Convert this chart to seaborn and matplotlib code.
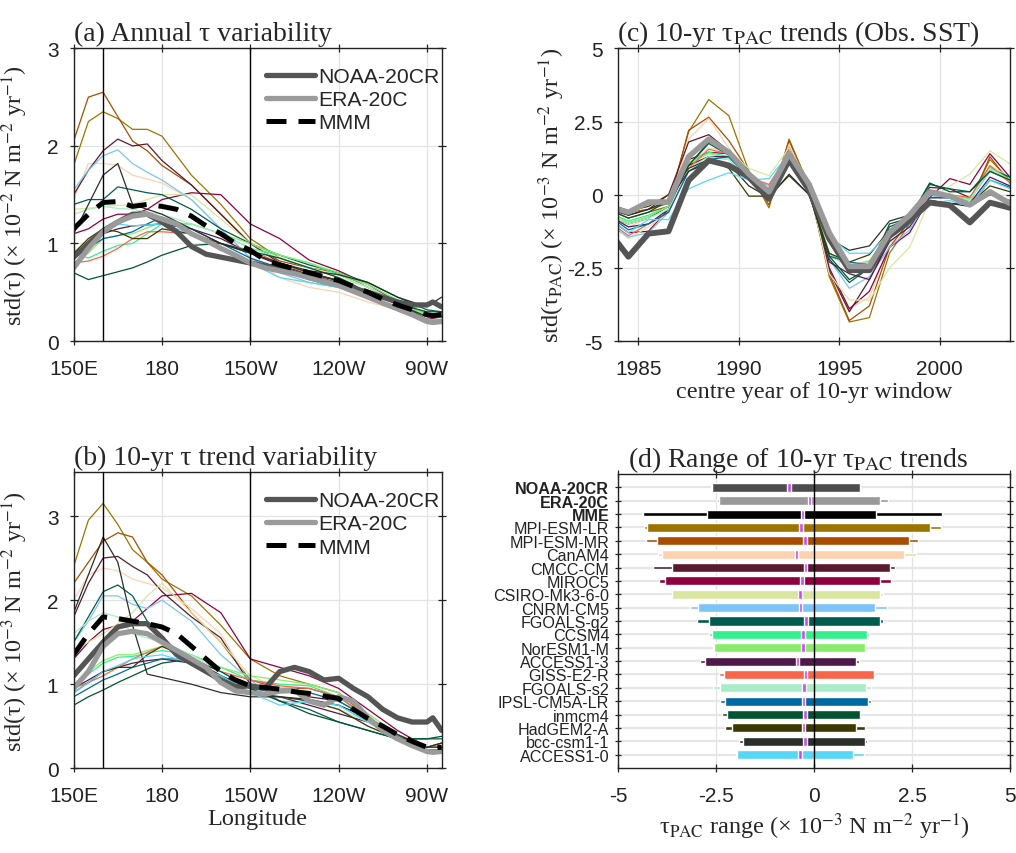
import numpy as np
import pandas as pd
import matplotlib
matplotlib.use("Agg")
import matplotlib.pyplot as plt
import seaborn as sns

# ---------------- data ----------------
MODELS = ["MPI-ESM-LR", "MPI-ESM-MR", "CanAM4", "CMCC-CM", "MIROC5", "CSIRO-Mk3-6-0",
          "CNRM-CM5", "FGOALS-g2", "CCSM4", "NorESM1-M", "ACCESS1-3", "GISS-E2-R",
          "FGOALS-s2", "IPSL-CM5A-LR", "inmcm4", "HadGEM2-A", "bcc-csm1-1", "ACCESS1-0"]
MODEL_COLORS = ["#9e7400", "#a84d00", "#fcd2b0", "#5a1a2e", "#8f003f", "#d9e6a0",
                "#7cc4f7", "#005c4e", "#33f08c", "#88ec6a", "#4f1a4a", "#f9654a",
                "#a8ecc8", "#006aa0", "#005430", "#3a3a00", "#2a2f2a", "#57d6f5"]

LON = [150, 155, 160, 165, 170, 175, 180, 190, 200, 210, 220, 230, 240, 250, 260, 270, 275]
LON_F = [150, 155, 160, 165, 170, 175, 180, 185, 190, 195, 200, 205, 210, 215, 220, 225,
         230, 235, 240, 245, 250, 255, 260, 265, 270, 272, 275]
LON_TICKS = [150, 180, 210, 240, 270]
LON_LABELS = ["150E", "180", "150W", "120W", "90W"]

# panel (a): annual tau std (x1e-2)
A_MODELS = [
    [1.80, 2.25, 2.35, 2.28, 2.17, 2.17, 2.10, 1.70, 1.40, 1.05, 0.85, 0.75, 0.68, 0.55, 0.40, 0.28, 0.25],
    [2.05, 2.50, 2.55, 2.30, 2.05, 1.95, 1.80, 1.60, 1.30, 1.00, 0.82, 0.75, 0.70, 0.55, 0.40, 0.25, 0.30],
    [1.45, 1.82, 1.82, 1.80, 1.70, 1.66, 1.62, 1.45, 1.15, 0.85, 0.65, 0.55, 0.50, 0.40, 0.32, 0.22, 0.25],
    [1.50, 1.75, 1.95, 2.07, 2.00, 2.02, 1.85, 1.60, 1.30, 1.00, 0.80, 0.70, 0.62, 0.50, 0.38, 0.25, 0.25],
    [1.10, 1.15, 1.25, 1.30, 1.30, 1.35, 1.45, 1.52, 1.50, 1.20, 1.05, 0.83, 0.72, 0.58, 0.40, 0.22, 0.25],
    [1.35, 1.36, 1.38, 1.39, 1.40, 1.45, 1.50, 1.50, 1.25, 1.00, 0.85, 0.75, 0.68, 0.55, 0.40, 0.25, 0.25],
    [1.55, 1.75, 1.90, 1.96, 1.82, 1.73, 1.65, 1.45, 1.15, 0.85, 0.70, 0.60, 0.55, 0.45, 0.35, 0.22, 0.22],
    [1.40, 1.45, 1.45, 1.58, 1.55, 1.52, 1.50, 1.35, 1.15, 1.00, 0.88, 0.78, 0.70, 0.60, 0.45, 0.32, 0.30],
    [0.90, 0.85, 0.92, 0.98, 1.00, 1.10, 1.20, 1.20, 1.10, 0.95, 0.88, 0.80, 0.68, 0.58, 0.42, 0.25, 0.25],
    [0.80, 0.90, 1.05, 1.08, 1.10, 1.16, 1.22, 1.20, 1.10, 1.00, 0.88, 0.80, 0.70, 0.58, 0.42, 0.27, 0.25],
    [0.90, 1.00, 1.10, 1.15, 1.18, 1.19, 1.20, 1.15, 1.05, 0.90, 0.78, 0.68, 0.62, 0.50, 0.38, 0.22, 0.22],
    [0.80, 0.82, 0.87, 0.95, 1.05, 1.12, 1.12, 1.10, 1.00, 0.93, 0.80, 0.70, 0.58, 0.50, 0.38, 0.22, 0.22],
    [1.30, 1.35, 1.38, 1.36, 1.35, 1.32, 1.30, 1.20, 1.10, 0.95, 0.85, 0.75, 0.65, 0.55, 0.40, 0.25, 0.25],
    [0.85, 0.95, 1.05, 1.08, 1.12, 1.20, 1.27, 1.15, 1.00, 0.85, 0.75, 0.67, 0.60, 0.50, 0.38, 0.22, 0.22],
    [0.70, 0.63, 0.67, 0.71, 0.75, 0.81, 0.88, 0.98, 1.00, 0.92, 0.85, 0.75, 0.65, 0.50, 0.38, 0.30, 0.30],
    [0.90, 1.05, 1.15, 1.12, 1.05, 1.05, 1.15, 1.10, 1.00, 0.90, 0.80, 0.70, 0.62, 0.50, 0.38, 0.25, 0.25],
    [1.10, 1.40, 1.70, 1.82, 1.40, 1.35, 1.30, 1.15, 1.00, 0.90, 0.80, 0.72, 0.68, 0.60, 0.45, 0.35, 0.45],
    [0.75, 0.95, 1.10, 1.20, 1.18, 1.19, 1.20, 1.10, 0.95, 0.80, 0.65, 0.60, 0.55, 0.45, 0.35, 0.22, 0.22],
]
A_NOAA = [0.86, 1.00, 1.13, 1.22, 1.30, 1.30, 1.22, 1.12, 0.97, 0.89, 0.86, 0.83, 0.80, 0.77,
          0.74, 0.70, 0.65, 0.61, 0.58, 0.54, 0.50, 0.45, 0.40, 0.37, 0.37, 0.40, 0.35]
A_ERA = [0.75, 0.95, 1.12, 1.22, 1.28, 1.30, 1.25, 1.20, 1.10, 1.03, 0.95, 0.88, 0.80, 0.75,
         0.72, 0.69, 0.65, 0.61, 0.57, 0.51, 0.45, 0.39, 0.33, 0.27, 0.20, 0.19, 0.20]
A_MMM = [1.15, 1.30, 1.42, 1.43, 1.38, 1.40, 1.38, 1.35, 1.28, 1.18, 1.10, 1.00, 0.93, 0.83,
         0.78, 0.74, 0.70, 0.66, 0.62, 0.56, 0.50, 0.43, 0.37, 0.32, 0.27, 0.26, 0.27]

# panel (b): 10-yr trend std (x1e-3)
B_MODELS = [
    [2.40, 2.95, 3.15, 2.90, 2.60, 2.45, 2.25, 2.05, 1.70, 1.30, 1.10, 1.00, 0.90, 0.60, 0.40, 0.25, 0.30],
    [2.20, 2.45, 2.70, 2.80, 2.75, 2.45, 2.30, 1.85, 1.50, 1.05, 0.95, 0.95, 0.85, 0.60, 0.40, 0.25, 0.30],
    [2.00, 2.30, 2.38, 2.35, 2.25, 2.20, 2.15, 1.90, 1.60, 1.00, 0.85, 0.80, 0.70, 0.50, 0.35, 0.25, 0.25],
    [1.80, 2.20, 2.50, 2.52, 2.40, 2.30, 2.10, 1.80, 1.55, 1.00, 0.95, 0.85, 0.80, 0.60, 0.38, 0.25, 0.25],
    [1.30, 1.50, 1.65, 1.70, 1.75, 1.90, 2.05, 2.08, 1.85, 1.30, 1.20, 1.10, 0.95, 0.70, 0.45, 0.25, 0.25],
    [1.40, 1.50, 1.60, 1.72, 1.85, 2.05, 2.20, 1.85, 1.50, 1.10, 0.95, 0.90, 0.80, 0.60, 0.40, 0.25, 0.25],
    [1.50, 1.75, 2.05, 2.05, 1.95, 1.90, 2.00, 1.75, 1.35, 1.05, 0.80, 0.78, 0.75, 0.55, 0.35, 0.20, 0.20],
    [1.50, 1.80, 2.10, 2.18, 2.05, 1.75, 1.50, 1.30, 1.10, 0.95, 0.80, 0.70, 0.55, 0.45, 0.35, 0.35, 0.35],
    [1.00, 1.12, 1.25, 1.32, 1.33, 1.37, 1.40, 1.35, 1.20, 1.05, 1.00, 0.98, 0.85, 0.60, 0.40, 0.25, 0.25],
    [1.00, 1.15, 1.28, 1.35, 1.35, 1.40, 1.45, 1.35, 1.20, 1.10, 1.05, 1.00, 0.90, 0.65, 0.40, 0.25, 0.25],
    [0.95, 1.05, 1.15, 1.20, 1.25, 1.28, 1.30, 1.25, 1.05, 0.90, 0.85, 0.75, 0.65, 0.55, 0.40, 0.25, 0.25],
    [0.95, 1.02, 1.10, 1.20, 1.30, 1.38, 1.45, 1.30, 1.15, 1.05, 0.98, 0.95, 0.85, 0.60, 0.35, 0.25, 0.25],
    [1.60, 1.75, 1.85, 1.80, 1.60, 1.55, 1.50, 1.35, 1.15, 0.95, 0.85, 0.80, 0.70, 0.55, 0.40, 0.25, 0.25],
    [0.85, 0.95, 1.05, 1.12, 1.20, 1.25, 1.30, 1.30, 1.10, 0.95, 0.90, 0.90, 0.80, 0.60, 0.35, 0.22, 0.22],
    [0.75, 0.85, 0.93, 1.02, 1.10, 1.18, 1.25, 1.30, 1.15, 0.95, 0.80, 0.65, 0.55, 0.45, 0.35, 0.35, 0.38],
    [0.90, 1.02, 1.15, 1.20, 1.20, 1.35, 1.45, 1.30, 1.10, 0.90, 0.85, 0.80, 0.70, 0.50, 0.35, 0.25, 0.25],
    [1.85, 2.30, 2.75, 2.45, 1.70, 1.12, 1.08, 1.00, 0.90, 0.85, 0.85, 0.82, 0.75, 0.60, 0.40, 0.25, 0.30],
    [0.90, 1.02, 1.15, 1.22, 1.30, 1.33, 1.35, 1.25, 1.10, 0.90, 0.75, 0.80, 0.75, 0.55, 0.35, 0.20, 0.20],
]
B_NOAA = [1.10, 1.30, 1.50, 1.68, 1.72, 1.72, 1.55, 1.35, 1.25, 1.15, 1.05, 0.97, 0.98, 0.95,
          1.15, 1.20, 1.15, 1.05, 1.07, 0.95, 0.85, 0.70, 0.60, 0.55, 0.55, 0.60, 0.45]
B_ERA = [0.95, 1.15, 1.45, 1.60, 1.63, 1.60, 1.50, 1.40, 1.30, 1.20, 1.02, 0.92, 0.90, 0.88,
         0.92, 0.93, 0.80, 0.75, 0.85, 0.80, 0.60, 0.45, 0.35, 0.27, 0.20, 0.19, 0.20]
B_MMM = [1.35, 1.60, 1.80, 1.78, 1.75, 1.72, 1.68, 1.60, 1.45, 1.30, 1.15, 1.05, 0.98, 0.96,
         0.94, 0.91, 0.89, 0.86, 0.83, 0.70, 0.59, 0.50, 0.40, 0.32, 0.25, 0.24, 0.25]

# panel (c): 10-yr tau_PAC trends (x1e-3), centre years
YEARS = [1983.5, 1984.5, 1985.5, 1986.5, 1987.5, 1988.5, 1989.5, 1990.5, 1991.5, 1992.5, 1993.5,
         1994.5, 1995.5, 1996.5, 1997.5, 1998.5, 1999.5, 2000.5, 2001.5, 2002.5, 2003.5]
C_MODELS = [
    [-0.3, -0.6, -0.5, -0.3, 2.15, 3.25, 2.7, 0.8, -0.45, 1.9, 0.3, -2.8, -4.35, -4.2, -2.0, -1.0, -0.1, -0.1, -0.2, 1.2, 0.5],
    [-0.5, -0.8, -0.6, -0.4, 2.2, 2.65, 1.85, 0.8, -0.35, 1.85, 0.2, -2.7, -4.3, -3.8, -1.8, -0.9, 0.0, -0.05, -0.3, 1.3, 0.4],
    [-0.6, -1.1, -0.8, -0.5, 1.9, 2.6, 1.6, 0.7, -0.1, 1.7, 0.3, -2.5, -3.9, -3.5, -1.7, -0.8, 0.1, 0.0, -0.2, 1.0, 0.6],
    [-0.5, -0.7, -0.5, 0.0, 1.8, 2.05, 1.5, 0.7, 0.0, 1.6, 0.2, -2.6, -4.0, -2.9, -1.5, -0.8, 0.25, 0.2, -0.1, 0.8, 0.5],
    [-0.8, -1.3, -1.25, -0.5, 1.2, 1.45, 1.4, 0.6, 0.0, 1.5, 0.3, -2.5, -3.9, -3.3, -1.8, -1.3, -0.1, 0.55, 0.35, 1.4, 0.6],
    [-0.9, -1.5, -1.1, -0.6, 1.0, 1.6, 1.5, 0.9, 0.65, 1.6, 0.2, -2.7, -3.6, -3.6, -2.5, -1.8, -0.2, 0.3, 0.7, 1.5, 1.05],
    [-1.0, -1.45, -1.3, -0.6, 1.0, 1.3, 1.2, 0.6, 0.3, 1.5, 0.3, -2.2, -3.2, -2.8, -1.8, -1.2, -0.1, 0.0, -0.2, 0.8, 0.5],
    [-0.7, -1.0, -0.8, -0.4, 1.0, 1.75, 1.35, 0.6, -0.2, 1.4, 0.2, -2.2, -3.0, -2.5, -1.1, -0.8, 0.35, 0.2, 0.1, 0.9, 0.6],
    [-0.6, -0.9, -0.7, -0.4, 1.1, 1.45, 1.3, 0.6, 0.0, 1.35, 0.2, -2.0, -2.5, -2.3, -1.4, -0.8, 0.1, 0.0, -0.2, 0.95, 0.5],
    [-0.6, -0.95, -0.75, -0.4, 1.05, 1.4, 1.25, 0.6, 0.0, 1.3, 0.2, -2.0, -2.45, -2.25, -1.35, -0.8, 0.05, 0.0, -0.15, 0.85, 0.45],
    [-0.7, -1.1, -1.0, -0.5, 1.0, 1.3, 1.3, 0.6, -0.1, 1.3, 0.1, -2.3, -2.7, -2.9, -1.6, -1.1, -0.1, -0.1, -0.3, 0.6, 0.3],
    [-0.9, -1.4, -1.0, -0.6, 0.9, 1.55, 1.4, 0.6, 0.35, 1.4, 0.2, -2.1, -2.4, -2.3, -1.3, -0.9, 0.0, 0.0, -0.1, 1.0, 0.4],
    [-0.7, -1.0, -0.8, -0.5, 0.9, 1.3, 1.2, 0.6, 0.0, 1.3, 0.2, -2.1, -2.4, -2.3, -1.3, -0.8, 0.0, 0.0, -0.2, 0.9, 0.5],
    [-0.7, -1.2, -1.0, -0.6, 0.8, 1.2, 1.3, 0.6, -0.2, 1.2, 0.1, -2.1, -2.3, -2.4, -1.5, -1.0, -0.1, -0.1, -0.4, 0.5, 0.25],
    [-0.5, -0.8, -0.6, -0.2, 1.0, 1.8, 1.5, 0.6, -0.2, 1.3, 0.0, -2.1, -2.9, -2.5, -1.0, -0.8, 0.4, 0.1, 0.1, 0.8, 0.5],
    [-0.3, -0.55, -0.4, 0.0, 0.9, 1.2, 0.9, -0.05, -0.05, 0.65, 0.0, -2.0, -2.3, -2.05, -1.2, -0.9, -0.2, -0.3, -0.3, 0.3, 0.1],
    [-0.4, -0.7, -0.5, -0.2, 0.8, 1.1, 1.05, 0.3, -0.1, 0.7, 0.0, -1.5, -1.9, -1.75, -0.9, -0.7, -0.2, -0.3, -0.4, 0.0, -0.2],
    [-0.8, -1.3, -0.85, -0.85, 0.2, 0.5, 0.75, 0.5, 0.55, 1.4, 0.1, -1.4, -2.0, -2.0, -1.3, -1.0, -0.3, -0.2, -0.4, 0.5, 0.2],
]
C_NOAA = [-1.22, -2.12, -1.33, -1.25, 0.49, 1.17, 1.00, 0.60, -0.14, 1.19, 0.15, -1.50, -2.58,
          -2.58, -1.39, -0.88, -0.27, -0.36, -0.95, -0.27, -0.45]
C_ERA = [-0.40, -0.60, -0.25, -0.25, 1.30, 1.90, 1.45, 0.70, 0.10, 1.40, 0.35, -1.30, -2.45,
         -2.45, -1.30, -0.70, 0.10, -0.05, -0.35, 0.10, -0.30]

# panel (d): ranges of 10-yr tau_PAC trends
D_NAMES = ["NOAA-20CR", "ERA-20C", "MME"] + MODELS
D_COLORS = ["#4d4d4d", "#999999", "#000000"] + MODEL_COLORS
D_OUT_LO = [-2.64, -2.47, -4.37, -4.35, -4.30, -3.99, -4.12, -3.97, -3.64, -3.17, -2.99, -2.68,
            -2.58, -2.91, -2.43, -2.58, -2.40, -2.36, -2.28, -1.91, -2.00]
D_IN_LO = [-2.61, -2.43, -2.73, -4.27, -4.01, -3.89, -3.63, -3.81, -3.63, -2.97, -2.69, -2.60,
           -2.56, -2.79, -2.31, -2.41, -2.27, -2.23, -2.10, -1.81, -1.97]
D_MED = [-0.64, -0.12, -0.30, -0.33, -0.23, -0.45, -0.22, -0.31, -0.36, -0.35, -0.21, -0.29,
         -0.29, -0.43, -0.22, -0.26, -0.27, -0.24, -0.27, -0.24, -0.36]
D_IN_HI = [1.17, 1.68, 1.59, 2.95, 2.41, 2.29, 1.93, 1.69, 1.69, 1.55, 1.68, 1.34, 1.31, 1.06,
           1.52, 1.32, 1.37, 1.17, 1.08, 1.29, 0.98]
D_OUT_HI = [1.18, 1.89, 3.26, 3.25, 2.66, 2.61, 2.06, 1.95, 1.76, 1.85, 1.76, 1.40, 1.34, 1.15,
            1.52, 1.46, 1.44, 1.17, 1.29, 1.34, 1.27]

# ---------------- style ----------------
sns.set_theme(style="ticks")
plt.rcParams["font.family"] = ["Liberation Sans", "DejaVu Sans"]
plt.rcParams["mathtext.fontset"] = "stix"
SERIF = ["Liberation Serif", "DejaVu Serif"]
TICK_FS = 15
TITLE_FS = 20
LABEL_FS = 17.5
GRID_C = "#e3e3e3"
NOAA_C = "#555555"
ERA_C = "#9a9a9a"

fig = plt.figure(figsize=(10.16, 8.54), dpi=100)
axA = fig.add_axes([0.0725, 0.5995, 0.3622, 0.3427])
axB = fig.add_axes([0.0725, 0.0992, 0.3622, 0.3466])
axC = fig.add_axes([0.6086, 0.5995, 0.3855, 0.3427])
axD = fig.add_axes([0.6086, 0.0995, 0.3855, 0.3443])

palette = dict(zip(MODELS, MODEL_COLORS))


def long_df(xs, rows):
    recs = []
    for name, vals in zip(MODELS, rows):
        for x, v in zip(xs, vals):
            recs.append((name, x, v))
    return pd.DataFrame(recs, columns=["model", "x", "y"])


def style_axes(ax):
    for s in ax.spines.values():
        s.set_visible(True)
        s.set_color("#222222")
        s.set_linewidth(1.0)
    ax.tick_params(direction="inout", length=6, width=0.9, top=True, right=True,
                   labelsize=TICK_FS, colors="#222222")
    ax.tick_params(axis="x", pad=10)
    ax.tick_params(axis="y", pad=8)
    ax.grid(True, color=GRID_C, lw=0.9)
    ax.set_axisbelow(True)


def lon_panel(ax, rows, noaa, era, mmm, ylim, yticks, title, ylabel, xlabel=None):
    style_axes(ax)
    sns.lineplot(data=long_df(LON, rows), x="x", y="y", hue="model", palette=palette,
                 hue_order=MODELS, estimator=None, sort=False, lw=0.9, legend=False, ax=ax)
    ax.axvline(160, color="black", lw=1.0, zorder=3)
    ax.axvline(210, color="black", lw=1.0, zorder=3)
    sns.lineplot(x=LON_F, y=noaa, color=NOAA_C, lw=3.8, label="NOAA-20CR", ax=ax,
                 estimator=None, sort=False)
    sns.lineplot(x=LON_F, y=era, color=ERA_C, lw=3.8, label="ERA-20C", ax=ax,
                 estimator=None, sort=False)
    sns.lineplot(x=LON_F, y=mmm, color="black", lw=3.6, ls=(0, (4.0, 2.4)), label="MMM",
                 ax=ax, estimator=None, sort=False)
    ax.set_xlim(150, 275)
    ax.set_ylim(*ylim)
    ax.set_xticks(LON_TICKS)
    ax.set_xticklabels(LON_LABELS)
    ax.set_yticks(yticks)
    ax.set_yticklabels([str(t) for t in yticks])
    ax.set_title(title, family=SERIF, fontsize=TITLE_FS, loc="left", pad=6)
    ax.set_ylabel(ylabel, family=SERIF, fontsize=LABEL_FS)
    ax.yaxis.set_label_coords(-0.118, 0.5)
    if xlabel:
        ax.set_xlabel(xlabel, family=SERIF, fontsize=LABEL_FS, labelpad=2)
    else:
        ax.set_xlabel("")
    ax.legend(loc="upper left", bbox_to_anchor=(0.5, 0.965), frameon=False,
              fontsize=TICK_FS + 0.2, handlelength=2.3, handletextpad=0.15,
              labelspacing=0.2, borderaxespad=0)


lon_panel(axA, A_MODELS, A_NOAA, A_ERA, A_MMM, (0, 3), [0, 1, 2, 3],
          "(a) Annual τ variability",
          r"std(τ) (× 10$^{-2}$ N m$^{-2}$ yr$^{-1}$)")
lon_panel(axB, B_MODELS, B_NOAA, B_ERA, B_MMM, (0, 3.52), [0, 1, 2, 3],
          "(b) 10-yr τ trend variability",
          r"std(τ) (× 10$^{-3}$ N m$^{-2}$ yr$^{-1}$)", xlabel="Longitude")

# ---- panel (c)
style_axes(axC)
sns.lineplot(data=long_df(YEARS, C_MODELS), x="x", y="y", hue="model", palette=palette,
             hue_order=MODELS, estimator=None, sort=False, lw=0.9, legend=False, ax=axC)
sns.lineplot(x=YEARS, y=C_NOAA, color=NOAA_C, lw=4.2, ax=axC, estimator=None, sort=False)
sns.lineplot(x=YEARS, y=C_ERA, color=ERA_C, lw=4.0, ax=axC, estimator=None, sort=False)
axC.set_xlim(1984, 2003.5)
axC.set_ylim(-5, 5)
axC.set_xticks([1985, 1990, 1995, 2000])
axC.set_xticklabels(["1985", "1990", "1995", "2000"])
axC.set_yticks([-5, -2.5, 0, 2.5, 5])
axC.set_yticklabels(["-5", "-2.5", "0", "2.5", "5"])
axC.set_title(r"(c) 10-yr τ$_{\rm PAC}$ trends (Obs. SST)", family=SERIF, fontsize=TITLE_FS,
              loc="center", pad=6, x=0.46)
axC.set_ylabel(r"std(τ$_{\rm PAC}$) (× 10$^{-3}$ N m$^{-2}$ yr$^{-1}$)", family=SERIF,
               fontsize=LABEL_FS)
axC.yaxis.set_label_coords(-0.13, 0.5)
axC.set_xlabel("centre year of 10-yr window", family=SERIF, fontsize=LABEL_FS, labelpad=2)

# ---- panel (d)
style_axes(axD)
axD.grid(False)
ypos = np.arange(1, len(D_NAMES) + 1)
axD.set_yticks(ypos)
axD.set_yticklabels(D_NAMES)
axD.grid(True, axis="y", color="#e6e6e6", lw=1.6)
axD.grid(True, axis="x", color=GRID_C, lw=0.9)
out_lo = np.array(D_OUT_LO); out_hi = np.array(D_OUT_HI)
in_lo = np.array(D_IN_LO); in_hi = np.array(D_IN_HI)
med = np.array(D_MED)
axD.barh(ypos, out_hi - out_lo, left=out_lo, height=0.24, color=D_COLORS, zorder=3)
axD.barh(ypos, in_hi - in_lo, left=in_lo, height=0.68, color=D_COLORS, zorder=4)
axD.axvline(0, color="black", lw=1.0, zorder=5)
axD.barh(ypos, 0.09, left=med - 0.045, height=0.68, color="#c94af2", zorder=6)
axD.set_xlim(-5, 5)
axD.set_ylim(22, 0)
axD.set_xticks([-5, -2.5, 0, 2.5, 5])
axD.set_xticklabels(["-5", "-2.5", "0", "2.5", "5"])
axD.tick_params(axis="y", labelsize=11.6, pad=4, length=5)
for i, lab in enumerate(axD.get_yticklabels()):
    if i < 3:
        lab.set_fontweight("bold")
axD.set_title(r"(d) Range of 10-yr τ$_{\rm PAC}$ trends", family=SERIF, fontsize=TITLE_FS,
              loc="center", pad=6, x=0.46)
axD.set_xlabel(r"τ$_{\rm PAC}$ range (× 10$^{-3}$ N m$^{-2}$ yr$^{-1}$)", family=SERIF,
               fontsize=LABEL_FS, labelpad=4)
axD.set_ylabel("")

fig.savefig("out.png", dpi=100)
